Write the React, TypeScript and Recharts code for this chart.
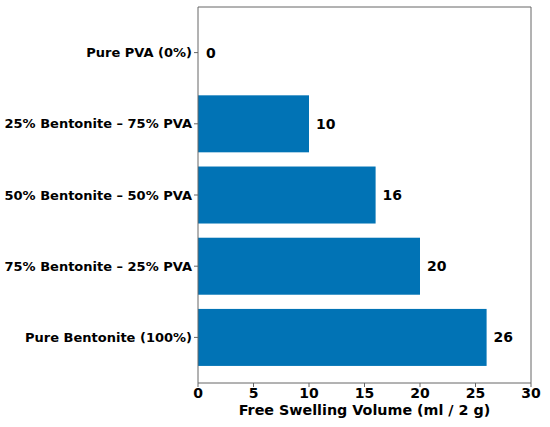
import React from "react";
import { BarChart, Bar, XAxis, YAxis, LabelList, Label } from "recharts";

const categories = [
  "Pure PVA (0%)",
  "25% Bentonite – 75% PVA",
  "50% Bentonite – 50% PVA",
  "75% Bentonite – 25% PVA",
  "Pure Bentonite (100%)",
];
const swellingValues = [0, 10, 16, 20, 26];
const xTicks = [0, 5, 10, 15, 20, 25, 30];

const data = categories.map((name, i) => ({ name, value: swellingValues[i] }));

const FONT = "'DejaVu Sans', sans-serif";
const AXIS = "#666";
const BAR = "#0173b5";

const BarShape = (props: any) => {
  const { x, y, width, height, payload } = props;
  if (!payload || payload.value === 0) return <g />;
  return <rect x={x} y={y} width={width} height={height} fill={BAR} />;
};

export default function App() {
  return (
    <div style={{ position: "absolute", left: 0, top: 0, background: "#fff" }}>
      <BarChart
        width={550}
        height={427}
        data={data}
        layout="vertical"
        margin={{ top: 6, right: 18, bottom: 0, left: 0 }}
        barCategoryGap="10%"
      >
        <XAxis
          type="number"
          domain={[0, 30]}
          ticks={xTicks}
          height={44}
          tickSize={4}
          tickMargin={1}
          axisLine={{ stroke: AXIS, strokeWidth: 1 }}
          tickLine={{ stroke: AXIS }}
          tick={{ fill: "#000", fontSize: 14, fontWeight: "bold", fontFamily: FONT }}
        >
          <Label
            value="Free Swelling Volume (ml / 2 g)"
            position="insideBottom"
            offset={12}
            style={{ fill: "#000", fontSize: 14.3, fontWeight: "bold", fontFamily: FONT }}
          />
        </XAxis>
        <XAxis
          xAxisId="top"
          type="number"
          orientation="top"
          domain={[0, 30]}
          height={1}
          tick={false}
          tickLine={false}
          axisLine={{ stroke: AXIS, strokeWidth: 1 }}
        />
        <YAxis
          type="category"
          dataKey="name"
          width={198}
          padding={{ top: 10, bottom: 10 }}
          tickSize={4}
          tickMargin={2}
          interval={0}
          axisLine={{ stroke: AXIS, strokeWidth: 1 }}
          tickLine={{ stroke: AXIS }}
          tick={{ fill: "#000", fontSize: 13, fontWeight: "bold", fontFamily: FONT }}
        />
        <YAxis
          yAxisId="right"
          type="category"
          dataKey="name"
          orientation="right"
          width={1}
          tick={false}
          tickLine={false}
          axisLine={{ stroke: AXIS, strokeWidth: 1 }}
        />
        <Bar dataKey="value" fill={BAR} minPointSize={1} shape={BarShape} isAnimationActive={false}>
          <LabelList
            dataKey="value"
            position="right"
            offset={7}
            style={{ fill: "#000", fontSize: 14, fontWeight: "bold", fontFamily: FONT }}
          />
        </Bar>
      </BarChart>
    </div>
  );
}
